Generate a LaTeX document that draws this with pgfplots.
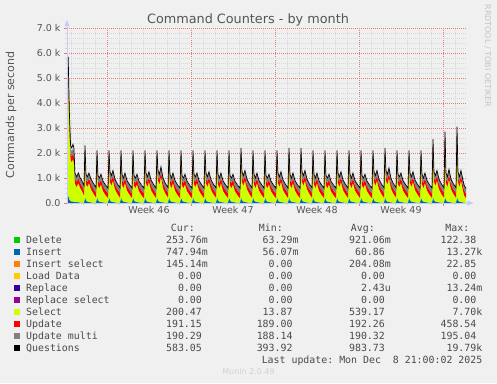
\documentclass[border=0pt]{standalone}
\usepackage{fontspec}
\setmainfont{DejaVu Sans}
\newfontfamily\monofont{DejaVu Sans Mono}
\usepackage{pgfplots}
\usepackage{pgfplotstable}
\pgfplotsset{compat=1.18}
\usetikzlibrary{arrows.meta}
\definecolor{bg}{HTML}{F0F0F0}
\definecolor{cdel}{HTML}{00CC00}
\definecolor{cins}{HTML}{0066B3}
\definecolor{cinssel}{HTML}{FF8000}
\definecolor{cload}{HTML}{FFCC00}
\definecolor{crep}{HTML}{330099}
\definecolor{crepsel}{HTML}{990099}
\definecolor{csel}{HTML}{CCFF00}
\definecolor{cupd}{HTML}{FF0000}
\definecolor{cumu}{HTML}{808080}
\definecolor{cq}{HTML}{000000}
\definecolor{mgridc}{RGB}{232,120,120}
\definecolor{gridc}{RGB}{214,214,214}
\definecolor{axisc}{RGB}{196,204,246}
\definecolor{txt}{HTML}{555555}
\definecolor{legtxt}{HTML}{4A4A4A}
\definecolor{faint}{HTML}{C4C4C4}

\pgfplotstableread{
x ins sel upd umu q
0.00 300 4500 450 250 5700
0.10 300 4600 450 250 5800
0.20 150 2800 300 220 3600
0.30 80 1650 250 200 2300
0.40 60 1570 230 200 2200
0.50 60 1700 230 200 2350
0.58 50 1560 220 200 2180
0.66 40 745 200 195 1200
0.80 30 615 195 190 1050
0.95 30 770 190 190 1200
1.10 20 580 190 190 1000
1.25 15 465 190 190 880
1.42 10 290 190 190 700
1.50 250 1650 190 190 2300
1.58 120 630 190 190 1150
1.70 60 590 190 190 1050
1.83 40 760 190 190 1200
2.00 25 525 190 190 950
2.20 15 365 190 190 780
2.42 10 210 190 190 620
2.50 250 1450 190 190 2100
2.58 120 580 190 190 1100
2.70 60 540 190 190 1000
2.83 40 710 190 190 1150
3.00 25 455 190 190 880
3.20 15 305 190 190 720
3.42 10 190 190 190 600
3.50 250 1450 190 190 2100
3.58 120 730 190 190 1250
3.70 60 640 190 190 1100
3.83 40 860 190 190 1300
4.00 25 525 190 190 950
4.20 15 345 190 190 760
4.42 10 200 190 190 610
4.50 250 1450 190 190 2100
4.58 120 630 190 190 1150
4.70 60 540 190 190 1000
4.83 40 760 190 190 1200
5.00 25 475 190 190 900
5.20 15 325 190 190 740
5.42 10 190 190 190 600
5.50 250 1450 190 190 2100
5.58 120 580 190 190 1100
5.70 60 540 190 190 1000
5.83 40 710 190 190 1150
6.00 25 445 190 190 870
6.20 15 305 190 190 720
6.42 10 180 190 190 590
6.50 250 1450 190 190 2100
6.58 120 680 190 190 1200
6.70 60 590 190 190 1050
6.83 40 810 190 190 1250
7.00 25 495 190 190 920
7.20 15 335 190 190 750
7.42 10 190 190 190 600
7.50 250 1450 190 190 2100
7.58 120 780 190 190 1300
7.70 60 690 190 190 1150
7.83 40 1010 190 190 1450
8.00 25 575 190 190 1000
8.20 15 365 190 190 780
8.42 10 210 190 190 620
8.50 250 1450 190 190 2100
8.58 120 630 190 190 1150
8.70 60 540 190 190 1000
8.83 40 760 190 190 1200
9.00 25 475 190 190 900
9.20 15 315 190 190 730
9.42 10 190 190 190 600
9.50 250 1450 190 190 2100
9.58 120 580 190 190 1100
9.70 60 540 190 190 1000
9.83 40 710 190 190 1150
10.00 25 455 190 190 880
10.20 15 305 190 190 720
10.42 10 180 190 190 590
10.50 250 1450 190 190 2100
10.58 120 630 190 190 1150
10.70 60 590 190 190 1050
10.83 40 760 190 190 1200
11.00 25 475 190 190 900
11.20 15 325 190 190 740
11.42 10 190 190 190 600
11.50 250 1450 190 190 2100
11.58 120 680 190 190 1200
11.70 60 590 190 190 1050
11.83 40 810 190 190 1250
12.00 25 505 190 190 930
12.20 15 335 190 190 750
12.42 10 200 190 190 610
12.50 250 1450 190 190 2100
12.58 120 630 190 190 1150
12.70 60 540 190 190 1000
12.83 40 760 190 190 1200
13.00 25 465 190 190 890
13.20 15 315 190 190 730
13.42 10 190 190 190 600
13.50 250 1450 190 190 2100
13.58 120 580 190 190 1100
13.70 60 540 190 190 1000
13.83 40 710 190 190 1150
14.00 25 445 190 190 870
14.20 15 305 190 190 720
14.42 10 180 190 190 590
14.50 250 1550 190 190 2200
14.58 120 730 190 190 1250
14.70 60 640 190 190 1100
14.83 40 860 190 190 1300
15.00 25 525 190 190 950
15.20 15 345 190 190 760
15.42 10 200 190 190 610
15.50 250 1450 190 190 2100
15.58 120 630 190 190 1150
15.70 60 540 190 190 1000
15.83 40 760 190 190 1200
16.00 25 475 190 190 900
16.20 15 325 190 190 740
16.42 10 190 190 190 600
16.50 250 1450 190 190 2100
16.58 120 580 190 190 1100
16.70 60 540 190 190 1000
16.83 40 710 190 190 1150
17.00 25 455 190 190 880
17.20 15 305 190 190 720
17.42 10 180 190 190 590
17.50 250 1450 190 190 2100
17.58 120 680 190 190 1200
17.70 60 590 190 190 1050
17.83 40 810 190 190 1250
18.00 25 495 190 190 920
18.20 15 335 190 190 750
18.42 10 190 190 190 600
18.50 250 1550 190 190 2200
18.58 120 630 190 190 1150
18.70 60 540 190 190 1000
18.83 40 760 190 190 1200
19.00 25 475 190 190 900
19.20 15 315 190 190 730
19.42 10 190 190 190 600
19.50 250 1550 190 190 2200
19.58 120 730 190 190 1250
19.70 60 640 190 190 1100
19.83 40 860 190 190 1300
20.00 25 525 190 190 950
20.20 15 345 190 190 760
20.42 10 200 190 190 610
20.50 250 1450 190 190 2100
20.58 120 630 190 190 1150
20.70 60 540 190 190 1000
20.83 40 760 190 190 1200
21.00 25 465 190 190 890
21.20 15 315 190 190 730
21.42 10 190 190 190 600
21.50 250 1450 190 190 2100
21.58 120 580 190 190 1100
21.70 60 540 190 190 1000
21.83 40 710 190 190 1150
22.00 25 445 190 190 870
22.20 15 305 190 190 720
22.42 10 180 190 190 590
22.50 250 1450 190 190 2100
22.58 120 680 190 190 1200
22.70 60 590 190 190 1050
22.83 40 810 190 190 1250
23.00 25 495 190 190 920
23.20 15 335 190 190 750
23.42 10 190 190 190 600
23.50 250 1450 190 190 2100
23.58 120 630 190 190 1150
23.70 60 540 190 190 1000
23.83 40 760 190 190 1200
24.00 25 475 190 190 900
24.20 15 325 190 190 740
24.42 10 190 190 190 600
24.50 250 1450 190 190 2100
24.58 120 580 190 190 1100
24.70 60 540 190 190 1000
24.83 40 710 190 190 1150
25.00 25 455 190 190 880
25.20 15 305 190 190 720
25.42 10 180 190 190 590
25.50 250 1450 190 190 2100
25.58 120 730 190 190 1250
25.70 60 640 190 190 1100
25.83 40 860 190 190 1300
26.00 25 525 190 190 950
26.20 15 345 190 190 760
26.42 10 200 190 190 610
26.50 250 1550 190 190 2200
26.58 120 780 190 190 1300
26.70 60 690 190 190 1150
26.83 40 960 190 190 1400
27.00 25 555 190 190 980
27.20 15 355 190 190 770
27.42 10 210 190 190 620
27.50 250 1450 190 190 2100
27.58 120 630 190 190 1150
27.70 60 590 190 190 1050
27.83 40 760 190 190 1200
28.00 25 475 190 190 900
28.20 15 325 190 190 740
28.42 10 190 190 190 600
28.50 250 1450 190 190 2100
28.58 120 680 190 190 1200
28.70 60 590 190 190 1050
28.83 40 810 190 190 1250
29.00 25 495 190 190 920
29.20 15 335 190 190 750
29.42 10 190 190 190 600
29.50 250 1450 190 190 2100
29.58 120 630 190 190 1150
29.70 60 540 190 190 1000
29.83 40 760 190 190 1200
30.00 25 475 190 190 900
30.20 15 315 190 190 730
30.42 10 190 190 190 600
30.50 250 1900 190 190 2550
30.58 120 730 190 190 1250
30.70 60 640 190 190 1100
30.83 40 860 190 190 1300
31.00 25 525 190 190 950
31.20 15 345 190 190 760
31.42 10 200 190 190 610
31.50 250 2200 190 190 2850
31.58 120 680 190 190 1200
31.70 60 590 190 190 1050
31.83 40 910 190 190 1350
32.00 25 525 190 190 950
32.20 15 345 190 190 760
32.42 10 200 190 190 610
32.50 250 2400 190 190 3050
32.58 120 730 190 190 1250
32.70 60 590 190 190 1050
32.83 40 860 190 190 1300
33.00 25 475 190 190 900
33.10 15 285 190 190 700
33.25 1 200 191 190 583
}\data

\begin{document}
\frenchspacing
\begin{tikzpicture}[x=1pt,y=1pt]
\fill[bg] (0,0) rectangle (497,383);
\useasboundingbox (0,0) rectangle (497,383);
\begin{axis}[
  at={(67pt,180pt)}, anchor=south west,
  scale only axis, width=400pt, height=175pt,
  xmin=0, xmax=33.3333, ymin=0, ymax=7000,
  clip=false,
  axis line style={draw=none},
  tick pos=left, tick align=outside,
  major tick length=3pt, minor tick length=2pt,
  major tick style={draw=mgridc, line width=0.6pt},
  minor tick style={draw=gridc, line width=0.6pt},
  grid=both,
  major grid style={draw=mgridc, line width=0.5pt, dash pattern=on 1pt off 1pt},
  minor grid style={draw=gridc, line width=0.4pt, dash pattern=on 1pt off 1pt},
  xtick={3.3333,10.3333,17.3333,24.3333,31.3333},
  xticklabels={,,,,},
  minor xtick={0.3333,1.3333,2.3333,4.3333,5.3333,6.3333,7.3333,8.3333,9.3333,11.3333,12.3333,13.3333,14.3333,15.3333,16.3333,18.3333,19.3333,20.3333,21.3333,22.3333,23.3333,25.3333,26.3333,27.3333,28.3333,29.3333,30.3333,32.3333},
  extra x ticks={6.8333,13.8333,20.8333,27.8333},
  extra x tick labels={Week 46,Week 47,Week 48,Week 49},
  extra x tick style={grid=none, major tick length=0pt, tick style={draw=none}},
  ytick={0,1000,2000,3000,4000,5000,6000,7000},
  yticklabels={0.0,1.0 k,2.0 k,3.0 k,4.0 k,5.0 k,6.0 k,7.0 k},
  minor y tick num=4,
  tick label style={font=\fontsize{9.5}{11}\selectfont, text=txt},
]
\addplot[stack plots=y, fill=cins, draw=none] table[x=x,y=ins]{\data} \closedcycle;
\addplot[stack plots=y, fill=csel, draw=none] table[x=x,y=sel]{\data} \closedcycle;
\addplot[stack plots=y, fill=cupd, draw=none] table[x=x,y=upd]{\data} \closedcycle;
\addplot[stack plots=y, fill=cumu, draw=none] table[x=x,y=umu]{\data} \closedcycle;
\addplot[stack plots=false, draw=cq, line width=0.7pt] table[x=x,y=q]{\data};
\draw[axisc, line width=0.8pt, -{Triangle[length=6pt,width=5pt]}] (rel axis cs:0,0) -- (rel axis cs:1.016,0);
\draw[axisc, line width=0.8pt, -{Triangle[length=6pt,width=5pt]}] (rel axis cs:0,0) -- (rel axis cs:0,1.045);
\end{axis}

% title, y label and side text
\node[anchor=base, text=txt, font=\fontsize{12.8}{15}\selectfont] at (248,359) {Command Counters - by month};
\node[rotate=90, text=txt, font=\fontsize{11}{13}\selectfont] at (11,268) {Commands per second};
\node[rotate=-90, text=faint, font=\fontsize{8}{9}\selectfont] at (487.7,327) {RRDTOOL / TOBI OETIKER};

% legend
\begin{scope}[every node/.style={inner sep=0pt, text=legtxt, font=\monofont\fontsize{9.9}{12}\selectfont}]
\node[anchor=base east] at (195,152) {Cur:};
\node[anchor=base east] at (283,152) {Min:};
\node[anchor=base east] at (375,152) {Avg:};
\node[anchor=base east] at (469.5,152) {Max:};
\foreach \i/\c/\n/\cu/\mi/\av/\ma in {
 0/cdel/Delete/253.76m/63.29m/921.06m/122.38\phantom{m},
 1/cins/Insert/747.94m/56.07m/60.86\phantom{m}/13.27k,
 2/cinssel/Insert select/145.14m/0.00\phantom{m}/204.08m/22.85\phantom{m},
 3/cload/Load Data/0.00\phantom{m}/0.00\phantom{m}/0.00\phantom{m}/0.00\phantom{m},
 4/crep/Replace/0.00\phantom{m}/0.00\phantom{m}/2.43u/13.24m,
 5/crepsel/Replace select/0.00\phantom{m}/0.00\phantom{m}/0.00\phantom{m}/0.00\phantom{m},
 6/csel/Select/200.47\phantom{m}/13.87\phantom{m}/539.17\phantom{m}/7.70k,
 7/cupd/Update/191.15\phantom{m}/189.00\phantom{m}/192.26\phantom{m}/458.54\phantom{m},
 8/cumu/Update multi/190.29\phantom{m}/188.14\phantom{m}/190.32\phantom{m}/195.04\phantom{m},
 9/cq/Questions/583.05\phantom{m}/393.92\phantom{m}/983.73\phantom{m}/19.79k}{
  \fill[\c] (14,{140.5-12*\i}) rectangle ++(5.5,5.5);
  \node[anchor=base west] at (26,{140-12*\i}) {\n};
  \node[anchor=base east] at (208,{140-12*\i}) {\cu};
  \node[anchor=base east] at (298.7,{140-12*\i}) {\mi};
  \node[anchor=base east] at (391,{140-12*\i}) {\av};
  \node[anchor=base east] at (482.5,{140-12*\i}) {\ma};
}
\node[anchor=base east] at (482.5,20) {Last update: Mon Dec\ \ 8 21:00:02 2025};
\end{scope}
\node[anchor=base, inner sep=0pt, text=faint!70!bg, font=\fontsize{8}{9}\selectfont] at (248.5,8.5) {Munin 2.0.49};
\end{tikzpicture}
\end{document}
